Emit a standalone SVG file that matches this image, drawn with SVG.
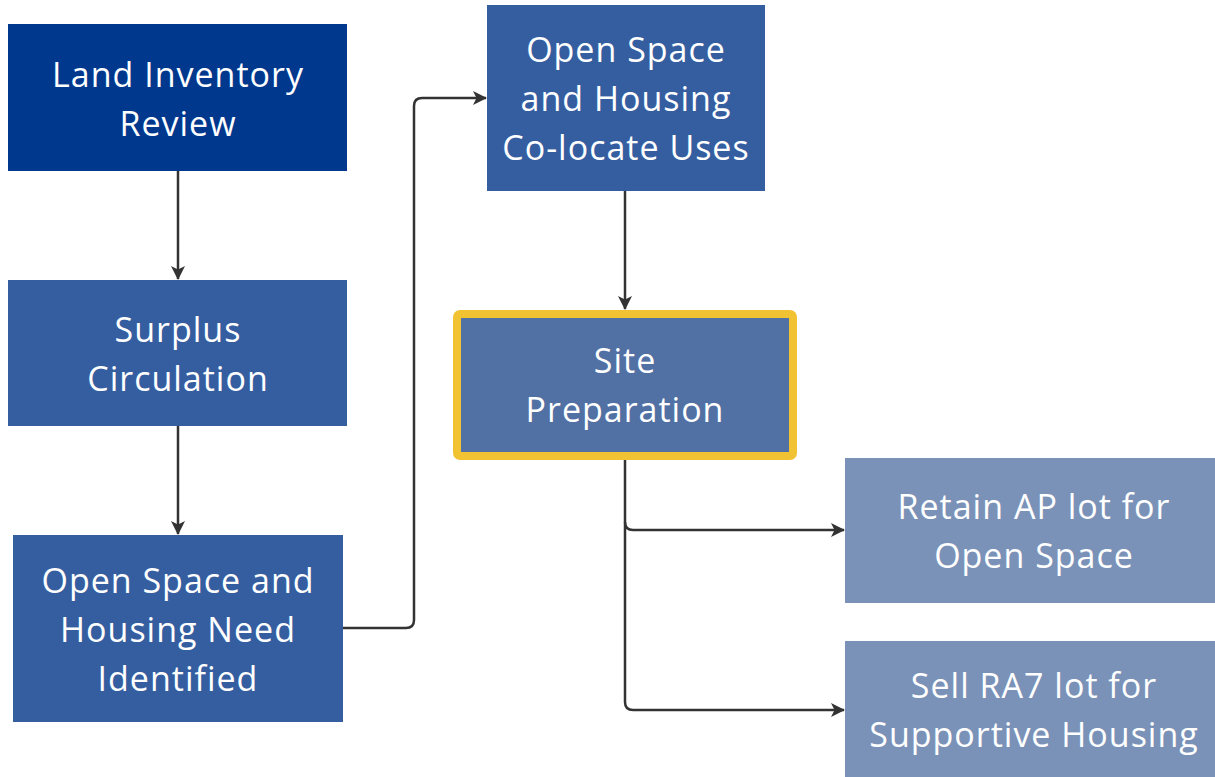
<svg xmlns="http://www.w3.org/2000/svg" width="1215" height="777" viewBox="0 0 1215 777">
  <defs>
    <style>
      .lbl { font-family: "Open Sans", "Noto Sans", "Liberation Sans", sans-serif; font-size: 34px; letter-spacing: 1px; fill: #ffffff; text-anchor: middle; }
      .dark { fill: #00388E; }
      .mid { fill: #355EA1; }
      .soft { fill: #5170A3; }
      .light { fill: #7A92B8; }
      .edge { fill: none; stroke: #333333; stroke-width: 2.5; stroke-linejoin: round; }
    </style>
    <marker id="arrow" viewBox="0 0 14 14" refX="13" refY="7" markerWidth="14" markerHeight="14" markerUnits="userSpaceOnUse" orient="auto">
      <path d="M0,0 L14,7 L0,14 L3.5,7 Z" fill="#333333"/>
    </marker>
  </defs>

  <rect width="1215" height="777" fill="#ffffff"/>

  <g id="connectors">
    <path class="edge" d="M178,171 V279" marker-end="url(#arrow)"/>
    <path class="edge" d="M178,426 V534" marker-end="url(#arrow)"/>
    <path class="edge" d="M343,628 H406 Q414,628 414,620 V106 Q414,98 422,98 H486" marker-end="url(#arrow)"/>
    <path class="edge" d="M625,191 V309" marker-end="url(#arrow)"/>
    <path class="edge" d="M625,460 V522 Q625,530 633,530 H844" marker-end="url(#arrow)"/>
    <path class="edge" d="M625,522 V702 Q625,710 633,710 H844" marker-end="url(#arrow)"/>
  </g>

  <g id="land-inventory">
    <rect class="dark" x="8" y="24" width="339" height="147"/>
    <text class="lbl" x="178" y="87">Land Inventory</text>
    <text class="lbl" x="178" y="136">Review</text>
  </g>

  <g id="surplus-circulation">
    <rect class="mid" x="8" y="280" width="339" height="146"/>
    <text class="lbl" x="178" y="342">Surplus</text>
    <text class="lbl" x="178" y="391">Circulation</text>
  </g>

  <g id="need-identified">
    <rect class="mid" x="13" y="535" width="330" height="187"/>
    <text class="lbl" x="178" y="593">Open Space and</text>
    <text class="lbl" x="178" y="642">Housing Need</text>
    <text class="lbl" x="178" y="691">Identified</text>
  </g>

  <g id="co-locate">
    <rect class="mid" x="487" y="5" width="278" height="186"/>
    <text class="lbl" x="626" y="62">Open Space</text>
    <text class="lbl" x="626" y="111">and Housing</text>
    <text class="lbl" x="626" y="160">Co-locate Uses</text>
  </g>

  <g id="site-preparation">
    <rect class="soft" x="457" y="314" width="336" height="142" rx="3" stroke="#F1C232" stroke-width="8"/>
    <text class="lbl" x="625" y="373">Site</text>
    <text class="lbl" x="625" y="422">Preparation</text>
  </g>

  <g id="retain-ap">
    <rect class="light" x="845" y="458" width="370" height="145"/>
    <text class="lbl" x="1034" y="519">Retain AP lot for</text>
    <text class="lbl" x="1034" y="568">Open Space</text>
  </g>

  <g id="sell-ra7">
    <rect class="light" x="845" y="641" width="370" height="136"/>
    <text class="lbl" x="1034" y="698">Sell RA7 lot for</text>
    <text class="lbl" x="1034" y="747">Supportive Housing</text>
  </g>
</svg>
